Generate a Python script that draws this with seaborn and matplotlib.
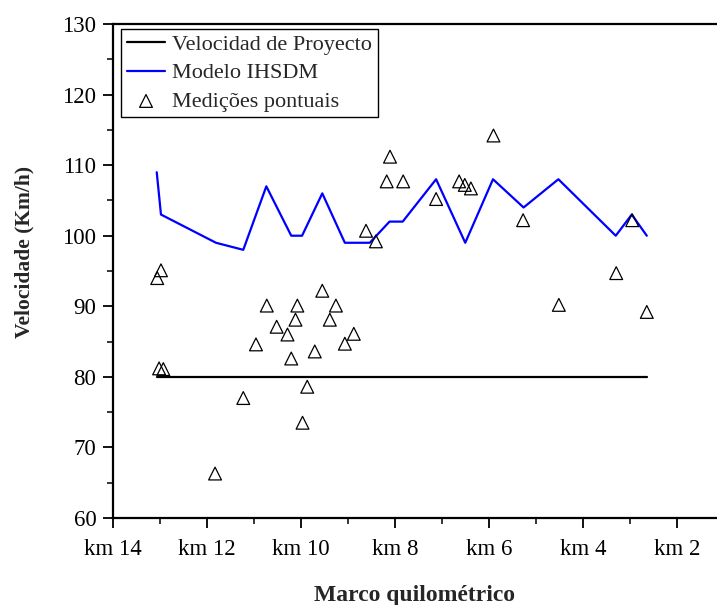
import matplotlib
matplotlib.use("Agg")
import matplotlib.pyplot as plt
import seaborn as sns
import pandas as pd
from matplotlib.ticker import FixedLocator, MultipleLocator

# ---- data ----
km_design = [13.07, 2.65]
v_design = [80, 80]

km_model = [13.07, 12.98, 11.81, 11.23, 10.74, 10.21, 9.98, 9.55, 9.07, 8.54,
            8.12, 7.84, 7.13, 6.51, 5.92, 5.27, 4.53, 3.31, 2.97, 2.65]
v_model = [109, 103, 99, 98, 107, 100, 100, 106, 99, 99,
           102, 102, 108, 99, 108, 104, 108, 100, 103, 100]

km_meas = [13.06, 12.98, 13.02, 12.93, 11.83, 11.23, 10.96, 10.73, 10.52, 10.29,
           10.21, 10.12, 10.08, 9.97, 9.87, 9.71, 9.55, 9.39, 9.26, 9.07,
           8.88, 8.62, 8.41, 8.18, 8.11, 7.83, 7.13, 6.64, 6.52, 6.39,
           5.91, 5.28, 4.52, 3.30, 2.96, 2.65]
v_meas = [94.0, 95.1, 81.2, 81.1, 66.3, 77.0, 84.6, 90.1, 87.1, 86.0,
          82.6, 88.1, 90.1, 73.5, 78.6, 83.6, 92.2, 88.1, 90.1, 84.7,
          86.1, 100.7, 99.2, 107.7, 111.2, 107.7, 105.2, 107.7, 107.2, 106.7,
          114.2, 102.2, 90.2, 94.7, 102.2, 89.2]

xtick_values = [14, 12, 10, 8, 6, 4, 2]
xtick_labels = ["km 14", "km 12", "km 10", "km 8", "km 6", "km 4", "km 2"]

labels = ["Velocidad de Proyecto", "Modelo IHSDM", "Medições pontuais"]

# ---- style ----
sns.set_style("ticks")
plt.rcParams["font.family"] = ["Liberation Serif", "DejaVu Serif"]

fig = plt.figure(figsize=(7.17, 6.05), dpi=100)
ax = fig.add_axes([113 / 717, (605 - 518) / 605, 1 - 113 / 717, 494 / 605])

df_design = pd.DataFrame({"km": km_design, "v": v_design})
df_model = pd.DataFrame({"km": km_model, "v": v_model})
df_meas = pd.DataFrame({"km": km_meas, "v": v_meas})

sns.lineplot(data=df_design, x="km", y="v", ax=ax, color="black", linewidth=1.6,
             sort=False, estimator=None, label=labels[0])
sns.lineplot(data=df_model, x="km", y="v", ax=ax, color="#0000ff", linewidth=1.6,
             sort=False, estimator=None, label=labels[1])
sns.scatterplot(data=df_meas, x="km", y="v", ax=ax, marker="^", s=85,
                facecolor="none", edgecolor="black", linewidth=0.9,
                label=labels[2], zorder=3)

ax.set_xlim(14, 14 - 604 / 47.03)
ax.set_ylim(60, 130)
ax.set_xticks(xtick_values)
ax.set_xticklabels(xtick_labels)
ax.xaxis.set_minor_locator(FixedLocator([13, 11, 9, 7, 5, 3]))
ax.yaxis.set_major_locator(MultipleLocator(10))
ax.yaxis.set_minor_locator(MultipleLocator(5))

ax.tick_params(axis="both", which="major", direction="out", length=7, width=1.3,
               labelsize=16.5, colors="black", pad=5)
ax.tick_params(axis="both", which="minor", direction="out", length=4, width=1.3)
ax.tick_params(axis="x", which="major", pad=8)

for side in ["left", "bottom", "top"]:
    ax.spines[side].set_visible(True)
    ax.spines[side].set_linewidth(1.6)
    ax.spines[side].set_color("black")
ax.spines["right"].set_visible(False)

ax.set_xlabel("Marco quilométrico", fontsize=17, fontweight="bold", labelpad=18)
ax.set_ylabel("Velocidade (Km/h)", fontsize=15.5, fontweight="bold")
ax.yaxis.set_label_coords(-0.13, 0.538)

leg = ax.legend(loc="upper left", bbox_to_anchor=(8 / 604, 1 - 5 / 494),
                borderaxespad=0, frameon=True, fancybox=False, framealpha=1,
                edgecolor="black", fontsize=16, handlelength=1.75,
                handletextpad=0.3, labelspacing=0.35, borderpad=0.25)
leg.get_frame().set_linewidth(1.0)

fig.savefig("out.png", dpi=100)
